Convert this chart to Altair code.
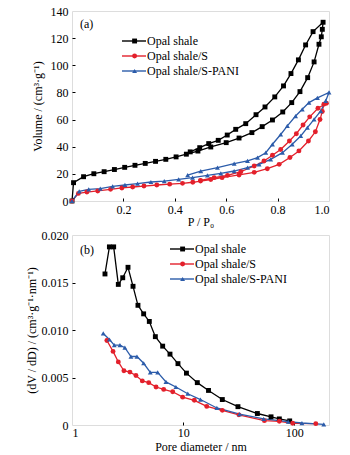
import altair as alt
import pandas as pd

SERIES = ["Opal shale", "Opal shale/S", "Opal shale/S-PANI"]
COLORS = ["#000000", "#e3202b", "#2c5caa"]
SHAPES = ["square", "circle", "triangle-up"]
FONT = "Liberation Serif"

# ---- (a) N2 isotherms: adsorption then desorption branch ----
os_ads_p = [0, 0.006, 0.045, 0.085, 0.125, 0.165, 0.205, 0.245, 0.285, 0.325, 0.365, 0.405, 0.445,
            0.49, 0.54, 0.6, 0.65, 0.7, 0.74, 0.78, 0.82, 0.855, 0.887, 0.917, 0.942, 0.961, 0.97,
            0.974, 0.977]
os_ads_v = [0, 13.5, 17.9, 20.1, 21.6, 23.2, 24.8, 26.3, 27.7, 29.2, 30.7, 32.5, 34.5,
            36.8, 39.8, 43, 46.4, 50.4, 54.8, 59.7, 65.6, 72.5, 80.6, 90.9, 102.5, 115.5, 121,
            126.5, 131.7]
os_des_p = [0.938, 0.909, 0.881, 0.852, 0.823, 0.789, 0.751, 0.716, 0.676, 0.637, 0.604, 0.569,
            0.532, 0.497, 0.46]
os_des_v = [124.8, 115, 104, 93.9, 84.8, 76.7, 69.3, 63.6, 57, 52.8, 48.6, 44.7, 42.3, 39.3, 36.2]

s_ads_p = [0, 0.025, 0.058, 0.1, 0.15, 0.194, 0.236, 0.28, 0.33, 0.38, 0.43, 0.47, 0.5, 0.54,
           0.584, 0.65, 0.709, 0.76, 0.806, 0.848, 0.883, 0.92, 0.947, 0.965, 0.974, 0.98, 0.99]
s_ads_v = [0, 5.6, 6.6, 7.4, 8.6, 9.6, 10.3, 11, 11.8, 12.4, 13, 13.8, 14.7, 15.8,
           17.2, 19.2, 21.1, 23.8, 27, 32, 36.9, 44.2, 51, 60, 66, 71.3, 72]
s_des_p = [0.957, 0.925, 0.899, 0.873, 0.846, 0.812, 0.78, 0.747, 0.709, 0.657, 0.605, 0.553, 0.5]
s_des_v = [68.3, 62, 56, 49.6, 44.2, 38, 33.7, 29.5, 25.8, 21.6, 18.9, 17.2, 15.2]

p_ads_p = [0, 0.028, 0.065, 0.11, 0.158, 0.206, 0.255, 0.307, 0.359, 0.415, 0.469, 0.527, 0.579,
           0.631, 0.683, 0.728, 0.773, 0.819, 0.857, 0.89, 0.916, 0.942, 0.968, 0.987, 1.0]
p_ads_v = [0, 7.1, 8.6, 9.1, 10.8, 11.8, 12.8, 14, 14.7, 16, 17.2, 18.9, 20.4,
           22.1, 24.6, 27, 30.7, 35.6, 41.8, 47.9, 54, 60.2, 66.3, 73.7, 80]
p_des_p = [0.955, 0.922, 0.896, 0.87, 0.838, 0.812, 0.78, 0.754, 0.722, 0.683, 0.631, 0.566,
           0.501, 0.45]
p_des_v = [76, 72.5, 67.6, 62.6, 55.3, 49, 41.8, 35.6, 32, 29.5, 27.5, 24.6, 22.1, 19]

# ---- (b) pore size distributions ----
os_d = [1.98, 2.17, 2.37, 2.61, 2.86, 3.19, 3.54, 3.92, 4.41, 4.96, 5.62, 6.54, 7.61, 8.98,
        10.7, 13.4, 16.9, 22.5, 31.1, 46.5, 61.7, 73.3, 90.8]
os_dv = [0.0159, 0.01875, 0.01875, 0.0148, 0.0155, 0.0166, 0.0146, 0.0126, 0.0117, 0.0109,
         0.0093, 0.0083, 0.00746, 0.00646, 0.00546, 0.00446, 0.00364, 0.00268, 0.00193,
         0.00121, 0.00086, 0.00064, 0.00043]
s_d = [2.06, 2.34, 2.61, 2.93, 3.32, 3.76, 4.29, 4.9, 5.7, 6.68, 8.05, 9.9, 12.6, 16.3, 22.5,
       31.7, 53.8, 73.3, 96.5, 156]
s_dv = [0.0089, 0.00775, 0.00664, 0.00571, 0.00557, 0.00521, 0.00464, 0.00446, 0.004, 0.00375,
        0.0035, 0.00293, 0.0026, 0.00196, 0.00154, 0.00107, 0.00046, 0.00039, 0.00018, 0.00014]
p_d = [1.91, 2.17, 2.4, 2.7, 2.99, 3.39, 3.84, 4.41, 5.06, 5.9, 7.0, 8.6, 11, 14.3, 20.1, 32.2,
       53, 88, 117, 184]
p_dv = [0.00964, 0.009, 0.0084, 0.0084, 0.00814, 0.00721, 0.00721, 0.0065, 0.00554, 0.00554,
        0.00454, 0.004, 0.00329, 0.00268, 0.00179, 0.00114, 0.00064, 0.00036, 0.00021, 0.00007]

# marker legend uses a distinct domain so it is not merged with the line legend
SYMS = [s + " " for s in SERIES]


def build(series_xy):
    rows = []
    for k, (name, xs, ys) in enumerate(series_xy):
        for i, (x, y) in enumerate(zip(xs, ys)):
            rows.append({"series": name, "sym": SYMS[k], "idx": i, "x": x, "y": y})
    return pd.DataFrame(rows)


iso = build([
    (SERIES[0], os_ads_p + os_des_p, os_ads_v + os_des_v),
    (SERIES[1], s_ads_p + s_des_p, s_ads_v + s_des_v),
    (SERIES[2], p_ads_p + p_des_p, p_ads_v + p_des_v),
])
psd = build([
    (SERIES[0], os_d, os_dv),
    (SERIES[1], s_d, s_dv),
    (SERIES[2], p_d, p_dv),
])


def legend(lx, ly, size, symbol, offset, hide=False):
    kw = dict(orient="none", legendX=lx, legendY=ly, title=None, padding=0,
              symbolSize=size, symbolType=symbol, labelFont=FONT, labelFontSize=12,
              labelOffset=offset, rowPadding=3, symbolStrokeWidth=1.4, labelLimit=200,
              labelColor="black")
    if hide:
        kw["labelExpr"] = "' '"
        kw["labelOpacity"] = 0
        kw["symbolStrokeWidth"] = 0
    return alt.Legend(**kw)


def panel(df, xscale, yscale, xaxis, yaxis, xticks, yticks, xtitle, ytitle, tag, tag_y, lx, ly):
    base = alt.Chart(df)
    cscale = alt.Scale(domain=SERIES, range=COLORS)
    lines = base.mark_line(strokeWidth=1.3).encode(
        x=alt.X("x:Q", scale=xscale, axis=xaxis, title=xtitle),
        y=alt.Y("y:Q", scale=yscale, axis=yaxis, title=ytitle),
        order="idx:Q",
        color=alt.Color("series:N", scale=cscale,
                        legend=legend(lx + 9, ly, 36, "M-4,0H4", 7)),
    )
    pleg = legend(lx + 9.6, ly, 24, "circle", 4, hide=True)
    pts = base.mark_point(filled=True, size=24, opacity=1).encode(
        x=alt.X("x:Q"), y=alt.Y("y:Q"),
        shape=alt.Shape("sym:N", scale=alt.Scale(domain=SYMS, range=SHAPES), legend=pleg),
        fill=alt.Fill("sym:N", scale=alt.Scale(domain=SYMS, range=COLORS), legend=pleg),
    )
    label = alt.Chart(pd.DataFrame({"t": [tag]})).mark_text(
        align="left", baseline="middle", font=FONT, fontSize=12
    ).encode(text="t:N", x=alt.value(8), y=alt.value(tag_y))
    main = alt.layer(lines, pts, label)

    tick_axis_x = alt.Axis(orient="bottom", offset=-3, tickSize=3, domain=False, labels=False,
                           grid=False, title=None, values=xticks, tickCount=20,
                           tickColor="black")
    tick_axis_y = alt.Axis(orient="left", offset=-3, tickSize=3, domain=False, labels=False,
                           grid=False, title=None, values=yticks, tickCount=20,
                           tickColor="black")
    ticks = base.mark_point(opacity=0).encode(
        x=alt.X("x:Q", scale=xscale, axis=tick_axis_x),
        y=alt.Y("y:Q", scale=yscale, axis=tick_axis_y),
    )
    return alt.layer(main, ticks).resolve_axis(
        x="independent", y="independent"
    ).properties(width=257, height=190)


axis_common = dict(ticks=False, domain=False, grid=False, labelFont=FONT, labelFontSize=12,
                   titleFont=FONT, titleFontSize=12, titleFontWeight="normal",
                   labelColor="black", titleColor="black", labelOverlap=False, tickCount=20)

top = panel(
    iso,
    alt.Scale(domain=[0, 1.0], nice=False),
    alt.Scale(domain=[0, 140], nice=False),
    alt.Axis(values=[0.2, 0.4, 0.6, 0.8, 1.0], format=".1f", labelPadding=3, titlePadding=1,
             **axis_common),
    alt.Axis(values=[0, 20, 40, 60, 80, 100, 120, 140], labelPadding=4, titlePadding=6,
             **axis_common),
    [0.2, 0.4, 0.6, 0.8], [20, 40, 60, 80, 100, 120],
    "P / P₀", "Volume / (cm³·g⁻¹)", "(a)", 13, 47, 24,
)

bottom = panel(
    psd,
    alt.Scale(type="log", domain=[1, 205], nice=False),
    alt.Scale(domain=[0, 0.02], nice=False),
    alt.Axis(values=[1, 10, 100], format="d", labelPadding=2, titlePadding=3, **axis_common),
    alt.Axis(values=[0, 0.005, 0.01, 0.015, 0.02], labelPadding=4, titlePadding=3,
             labelExpr="datum.value == 0 ? '0' : format(datum.value, '.3f')", **axis_common),
    [10, 100], [0.005, 0.01, 0.015],
    "Pore diameter / nm", "(dV / dD) / (cm³·g⁻¹·nm⁻¹)", "(b)", 15, 95, 8,
)

chart = alt.vconcat(top, bottom, spacing=0).resolve_scale(
    color="independent", shape="independent", fill="independent"
).resolve_legend(
    color="independent", shape="independent", fill="independent"
).configure_view(
    stroke="black", strokeWidth=1
).configure(
    padding={"left": 24, "top": 4, "right": 5, "bottom": 1}
)

chart.save("out.html", embed_options={"renderer": "svg", "actions": False})
